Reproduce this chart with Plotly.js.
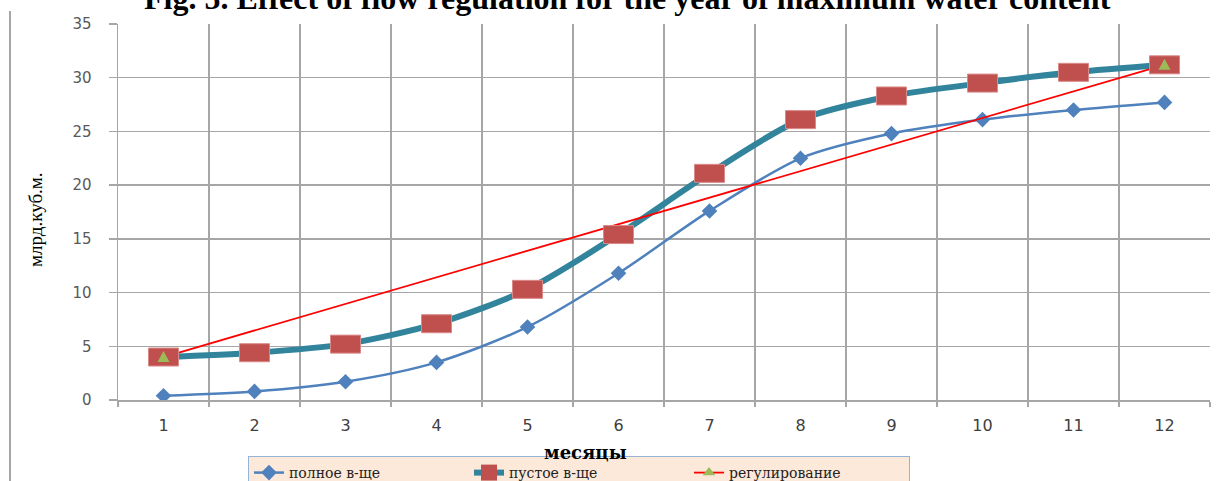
<!DOCTYPE html>
<html>
<head>
<meta charset="utf-8">
<script src="https://cdn.plot.ly/plotly-3.0.1.min.js"></script>
<style>html,body{margin:0;padding:0;background:#fff;}#chart{width:1230px;height:481px;}</style>
</head>
<body>
<div id="chart"></div>
<script>
// Data
const months = ['1','2','3','4','5','6','7','8','9','10','11','12'];
const fullReservoir = [0.4, 0.8, 1.7, 3.5, 6.8, 11.8, 17.6, 22.5, 24.8, 26.1, 27.0, 27.7];
const emptyReservoir = [4.0, 4.4, 5.2, 7.1, 10.3, 15.4, 21.1, 26.1, 28.3, 29.5, 30.5, 31.2];
const regMonths = ['1', '12'];
const regulation = [4.0, 31.2];
const seriesNames = ['полное в-ще', 'пустое в-ще', 'регулирование'];
const yTicks = [0, 5, 10, 15, 20, 25, 30, 35];
const chartTitle = 'Fig. 5. Effect of flow regulation for the year of maximum water content';
const xTitle = 'месяцы';
const yTitle = 'млрд.куб.м.';

const L = 118, R = 20, T = 24, B = 81;
const W = 1230, H = 481;
const pw = W - L - R, ph = H - T - B;
const px2x = p => (p - L) / pw;
const px2y = p => (H - B - p) / ph;

const traces = [
  {
    x: months, y: fullReservoir, name: seriesNames[0], type: 'scatter', mode: 'lines+markers',
    line: {color: '#4F81BD', width: 2.5, shape: 'spline', smoothing: 0.8},
    marker: {symbol: 'diamond', size: 12, color: '#4F81BD'}
  },
  {
    x: months, y: emptyReservoir, name: seriesNames[1], type: 'scatter', mode: 'lines+markers',
    line: {color: '#31849B', width: 6, shape: 'spline', smoothing: 0.8},
    marker: {symbol: 'square', size: 17, color: '#C0504D'}
  },
  {
    x: regMonths, y: regulation, name: seriesNames[2], type: 'scatter', mode: 'lines+markers',
    line: {color: '#FF0000', width: 1.8},
    marker: {symbol: 'triangle-up', size: 11, color: '#9BBB59'}
  }
];

const shapes = [];
// rectangular markers of the empty-reservoir series (anchored at the category index)
emptyReservoir.forEach((v, i) => {
  shapes.push({type: 'rect', layer: 'above', xref: 'x', yref: 'y',
    xsizemode: 'pixel', ysizemode: 'pixel', xanchor: i, yanchor: v,
    x0: -15, x1: 15, y0: -9, y1: 9,
    fillcolor: '#C0504D', line: {color: '#D98A88', width: 1}});
});
// triangle markers of the regulation series on top
regulation.forEach((v, i) => {
  shapes.push({type: 'path', layer: 'above', xref: 'x', yref: 'y',
    xsizemode: 'pixel', ysizemode: 'pixel', xanchor: months.indexOf(regMonths[i]), yanchor: v,
    path: 'M -6 -5 L 6 -5 L 0 6 Z',
    fillcolor: '#9BBB59', line: {width: 0}});
});
// outer chart border on the left
shapes.push({type: 'line', xref: 'paper', yref: 'paper',
  x0: px2x(10), x1: px2x(10), y0: px2y(11), y1: px2y(490),
  line: {color: '#A6A6A6', width: 2}});

const layout = {
  width: W, height: H,
  margin: {l: L, r: R, t: T, b: B, pad: 0, autoexpand: false},
  paper_bgcolor: '#fff', plot_bgcolor: '#fff',
  showlegend: true,
  legend: {
    orientation: 'h', x: px2x(248), xanchor: 'left', y: px2y(456), yanchor: 'top',
    bgcolor: '#FDE9D9', bordercolor: '#95B3D7', borderwidth: 1,
    font: {family: 'DejaVu Serif', size: 14, color: '#222'},
    entrywidth: 175, entrywidthmode: 'pixels', traceorder: 'normal'
  },
  xaxis: {
    type: 'category', tickson: 'boundaries', range: [-0.5, 11.5],
    showgrid: true, gridcolor: '#A6A6A6', gridwidth: 1.5,
    showline: true, linecolor: '#A6A6A6', linewidth: 1.5,
    ticks: 'outside', ticklen: 5, tickcolor: '#A6A6A6', tickwidth: 1.5,
    ticklabelstandoff: 10,
    tickfont: {family: 'DejaVu Sans', size: 16, color: '#404040'},
    zeroline: false, fixedrange: true
  },
  yaxis: {
    range: [0, 35], tickvals: yTicks, ticktext: yTicks.map(String),
    showgrid: true, gridcolor: '#A6A6A6', gridwidth: 1.5,
    showline: true, linecolor: '#A6A6A6', linewidth: 1.5,
    ticks: 'outside', ticklen: 8, tickcolor: '#A6A6A6', tickwidth: 1.5,
    ticklabelstandoff: 14,
    tickfont: {family: 'DejaVu Sans', size: 15, color: '#595959'},
    zeroline: false, fixedrange: true
  },
  shapes: shapes,
  annotations: [
    {text: '<b>' + chartTitle + '</b>', xref: 'paper', yref: 'paper',
     x: px2x(627), y: px2y(-2), xanchor: 'center', yanchor: 'middle', showarrow: false,
     font: {family: 'Liberation Serif', size: 32, color: '#000'}},
    {text: '<b>' + xTitle + '</b>', xref: 'paper', yref: 'paper',
     x: px2x(585), y: px2y(452), xanchor: 'center', yanchor: 'middle', showarrow: false,
     font: {family: 'DejaVu Serif', size: 18, color: '#000'}},
    {text: yTitle, xref: 'paper', yref: 'paper', textangle: -90,
     x: px2x(36), y: px2y(220), xanchor: 'center', yanchor: 'middle', showarrow: false,
     font: {family: 'Liberation Serif', size: 19, color: '#000'}}
  ]
};

Plotly.newPlot('chart', traces, layout, {displayModeBar: false, staticPlot: true});
</script>
</body>
</html>
